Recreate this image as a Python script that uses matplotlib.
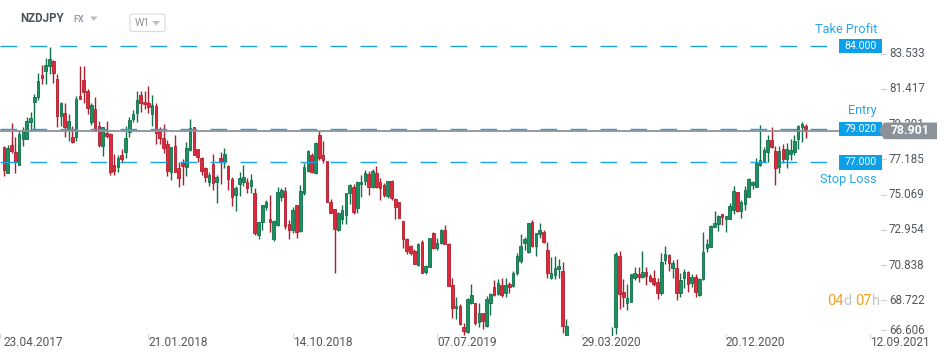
import numpy as np
import matplotlib.pyplot as plt
from matplotlib.patches import Polygon, Rectangle, FancyBboxPatch

plt.rcParams['font.family'] = ['Roboto', 'DejaVu Sans']

# NZDJPY weekly candles, week 1 = 30.04.2017 ; None = week below the visible range
opens = [77.92, 76.36, 78.04, 77.62, 76.84, 78.44, 78.44, 79.44, 80.66, 80.96,
         82.24, 82.50, 82.82, 83.10, 82.02, 79.80, 79.96, 79.04, 78.54, 78.56,
         81.00, 81.96, 81.30, 79.46, 80.22, 79.20, 77.98, 78.76, 78.70, 76.84,
         76.72, 77.44, 77.66, 78.86, 79.62, 79.96, 81.04, 80.66, 80.56, 79.92,
         80.40, 78.90, 78.46, 78.12, 76.41, 77.99, 76.65, 77.01, 76.75, 77.75,
         79.11, 77.79, 77.25, 76.65, 75.85, 76.91, 75.85, 77.25, 77.05, 76.79,
         76.01, 75.03, 75.71, 75.85, 75.85, 75.61, 75.19, 72.62, 73.41, 74.35,
         73.60, 72.42, 73.24, 74.95, 75.31, 73.28, 72.94, 74.43, 72.90, 75.19,
         76.51, 77.45, 76.35, 78.65, 77.45, 77.09, 74.61, 74.19, 72.94, 73.58,
         73.84, 75.15, 75.55, 74.25, 75.69, 75.91, 76.29, 75.55, 76.39, 75.81,
         75.65, 74.99, 75.91, 74.81, 74.65, 73.49, 72.38, 71.98, 71.70, 70.84,
         72.24, 70.44, 70.74, 72.78, 71.84, 72.14, 72.94, 72.10, 69.64, 68.24,
         68.38, 67.13, 66.84, 68.54, 68.54, 67.44, 67.94, 67.20, 68.58, 69.50,
         69.08, 69.64, 69.14, 69.70, 69.60, 70.34, 71.10, 72.14, 71.64, 73.40,
         72.00, 72.68, 72.80, 71.74, 70.08, 70.24, 70.60, 70.48, 66.20, None,
         None, None, None, None, None, None, None, None, None, None,
         65.60, 67.10, 71.38, 69.24, 68.58, 68.64, 70.08, 70.28, 70.14, 70.40,
         70.18, 70.04, 69.84, 69.14, 71.14, 71.44, 70.64, 70.64, 69.14, 70.04,
         70.44, 69.74, 70.14, 69.04, 69.98, 71.88, 71.94, 73.14, 73.28, 73.91,
         73.59, 73.59, 74.15, 75.21, 74.10, 74.49, 74.95, 75.65, 75.55, 76.85,
         77.11, 77.61, 78.35, 77.69, 76.75, 77.81, 77.19, 77.49, 77.61, 78.41,
         79.11, 79.19]
highs = [77.98, 78.06, 79.36, 78.52, 78.92, 79.12, 79.72, 80.04, 81.12, 82.36,
         82.86, 83.26, 83.92, 83.16, 82.30, 80.66, 80.56, 79.92, 79.20, 81.00,
         82.80, 82.80, 81.40, 80.56, 80.92, 79.50, 79.16, 79.50, 78.76, 77.52,
         77.46, 77.82, 79.20, 79.72, 80.16, 81.30, 81.30, 81.30, 81.60, 81.06,
         80.56, 79.12, 79.32, 78.36, 77.95, 78.65, 77.05, 77.21, 78.21, 79.61,
         79.15, 77.79, 77.35, 76.75, 76.45, 77.51, 76.25, 77.65, 77.85, 76.85,
         76.11, 75.59, 76.45, 76.85, 76.05, 76.31, 75.45, 73.45, 74.45, 74.75,
         75.05, 73.54, 75.51, 75.45, 75.51, 73.54, 74.31, 74.43, 75.65, 76.99,
         77.75, 77.55, 78.25, 78.91, 78.31, 77.09, 74.80, 74.19, 74.05, 74.45,
         75.19, 75.71, 75.71, 75.91, 76.25, 76.55, 76.49, 76.59, 76.79, 76.05,
         75.75, 75.89, 75.95, 74.85, 74.65, 73.49, 72.44, 72.04, 71.78, 72.14,
         72.34, 70.84, 72.48, 72.84, 72.44, 72.98, 73.25, 72.14, 70.04, 68.94,
         68.50, 67.34, 68.84, 69.70, 68.58, 68.54, 67.94, 68.98, 69.14, 69.94,
         69.98, 70.04, 70.04, 69.84, 70.48, 71.54, 72.68, 72.50, 73.38, 73.54,
         72.78, 73.38, 72.94, 72.20, 71.34, 71.38, 71.18, 71.04, 67.60, None,
         None, None, None, None, None, None, None, None, None, None,
         67.13, 71.64, 71.68, 70.00, 69.70, 70.30, 70.70, 70.70, 71.68, 70.70,
         70.30, 70.54, 70.04, 71.54, 71.98, 71.48, 71.14, 71.20, 70.34, 70.60,
         70.48, 70.28, 70.28, 70.04, 72.80, 72.40, 73.24, 74.09, 73.85, 73.91,
         73.79, 74.59, 75.61, 75.25, 74.75, 75.59, 76.05, 75.91, 77.25, 79.25,
         77.95, 78.65, 79.11, 78.01, 78.01, 78.09, 78.15, 78.41, 78.65, 79.25,
         79.45, 79.31]
lows = [76.16, 76.36, 77.60, 76.36, 76.84, 78.00, 78.44, 78.92, 78.96, 80.76,
        81.70, 81.70, 82.34, 81.76, 79.12, 79.22, 78.52, 78.32, 78.16, 78.32,
        80.84, 80.56, 79.92, 79.26, 78.92, 77.92, 77.42, 78.46, 76.26, 76.26,
        76.40, 76.96, 77.26, 78.56, 79.46, 79.46, 80.06, 80.20, 79.96, 79.20,
        78.12, 78.12, 77.60, 76.20, 75.95, 76.45, 75.55, 75.65, 76.19, 77.71,
        77.47, 77.05, 76.25, 75.85, 75.59, 75.35, 74.59, 75.71, 76.65, 75.35,
        74.41, 74.11, 74.99, 75.61, 75.19, 75.19, 72.64, 72.38, 72.94, 74.15,
        72.84, 72.30, 73.18, 74.70, 73.00, 72.38, 72.74, 72.44, 72.84, 75.05,
        76.41, 76.35, 76.31, 77.15, 76.99, 74.65, 73.95, 70.38, 72.90, 73.28,
        73.30, 74.49, 73.90, 73.95, 74.91, 75.65, 75.05, 75.45, 75.45, 74.75,
        74.91, 74.85, 74.75, 73.59, 73.65, 71.84, 71.48, 71.44, 70.90, 70.80,
        70.38, 70.30, 70.70, 71.78, 71.74, 72.10, 72.08, 69.58, 67.64, 67.58,
        67.24, 66.63, 66.73, 68.50, 67.24, 67.13, 66.97, 67.13, 67.84, 68.98,
        69.04, 68.90, 68.90, 69.14, 69.54, 70.24, 70.94, 71.74, 71.58, 71.94,
        71.40, 72.44, 72.14, 70.08, 69.98, 69.98, 70.04, 66.73, 65.80, None,
        None, None, None, None, None, None, None, None, None, None,
        65.40, 66.70, 68.20, 68.30, 68.14, 68.60, 69.94, 69.84, 70.08, 69.64,
        69.84, 69.58, 68.80, 69.04, 70.90, 70.48, 70.08, 68.74, 68.94, 69.44,
        69.24, 69.54, 68.94, 69.00, 69.94, 71.60, 71.90, 73.10, 72.88, 73.25,
        72.80, 73.59, 73.89, 74.05, 73.69, 74.15, 74.95, 75.41, 75.55, 76.81,
        77.05, 77.05, 77.85, 75.65, 76.39, 76.95, 76.69, 77.15, 77.45, 77.81,
        78.25, 78.49]
closes = [76.52, 77.86, 77.72, 77.06, 78.70, 78.92, 79.50, 79.66, 80.92, 81.88,
          82.10, 82.86, 83.22, 82.36, 79.82, 80.60, 79.12, 79.50, 78.26, 80.80,
          80.84, 81.26, 80.26, 80.46, 78.92, 78.06, 79.12, 78.60, 76.40, 76.46,
          77.26, 77.20, 78.46, 79.54, 79.90, 80.74, 80.60, 80.50, 80.36, 80.44,
          78.80, 78.50, 77.90, 76.46, 77.91, 76.45, 76.05, 76.81, 77.85, 79.05,
          77.47, 77.35, 76.51, 76.15, 76.25, 75.75, 76.11, 77.11, 77.49, 76.01,
          74.95, 75.45, 76.05, 76.15, 75.45, 75.95, 72.74, 73.41, 74.45, 74.63,
          73.44, 73.48, 75.25, 75.35, 73.20, 72.94, 74.14, 72.84, 75.29, 76.73,
          77.69, 76.45, 78.15, 77.25, 77.15, 74.65, 73.99, 72.98, 73.95, 74.15,
          75.15, 75.65, 74.05, 75.85, 75.81, 76.35, 75.55, 76.49, 75.55, 75.45,
          75.05, 75.89, 74.85, 74.35, 73.69, 72.38, 71.70, 71.58, 70.90, 72.10,
          70.38, 70.78, 72.44, 71.84, 72.14, 72.94, 72.08, 69.58, 68.24, 68.40,
          67.30, 66.90, 68.78, 69.04, 67.38, 67.94, 67.50, 68.78, 69.08, 69.04,
          69.74, 69.04, 69.64, 69.54, 70.34, 71.38, 71.98, 72.40, 73.34, 72.00,
          72.74, 72.94, 72.20, 70.38, 70.34, 70.64, 70.78, 67.17, 67.17, None,
          None, None, None, None, None, None, None, None, None, None,
          66.40, 71.50, 69.09, 68.90, 68.84, 70.28, 70.34, 70.14, 70.40, 70.20,
          69.90, 69.70, 69.18, 71.04, 71.48, 70.94, 70.94, 69.14, 69.94, 70.40,
          69.68, 70.10, 69.20, 70.00, 71.64, 72.10, 73.18, 73.38, 73.79, 73.70,
          73.79, 74.39, 75.29, 74.10, 74.61, 75.35, 76.01, 75.85, 76.95, 77.15,
          77.75, 78.35, 77.95, 76.69, 77.69, 77.21, 77.81, 77.75, 78.31, 79.19,
          79.31, 78.901]

price_ticks = [83.533, 81.417, 79.301, 77.185, 75.069, 72.954, 70.838, 68.722, 66.606]
date_labels = ['23.04.2017', '21.01.2018', '14.10.2018', '07.07.2019',
               '29.03.2020', '20.12.2020', '12.09.2021']
date_weeks = [0, 39, 77, 115, 153, 191, 229]

take_profit = 84.000
entry = 79.020
stop_loss = 77.000
last_price = 78.901

W, H = 950, 360
PXW = 3.8          # pixels per week


def wk(px):
    return (px - 0.1) / PXW


def fx(px):
    return px / W


def fy(py):
    return 1 - py / H


fig = plt.figure(figsize=(W / 100, H / 100), dpi=100)
fig.patch.set_facecolor('white')
ax = fig.add_axes([0, (H - 335.5) / H, 1, 335.5 / H])
ax.set_xlim(wk(0), wk(W))
ax.set_ylim(66.606, 86.763)
ax.axis('off')
ytr = ax.get_yaxis_transform()

# candles
o = np.array(opens, dtype=float)
h = np.array(highs, dtype=float)
l = np.array(lows, dtype=float)
c = np.array(closes, dtype=float)
x = np.arange(1, len(o) + 1)
ok = ~np.isnan(o)
up = ok & (c >= o)
dn = ok & (c < o)
for m, fill, edge in [(up, '#1b9160', '#11704a'), (dn, '#e02a3b', '#b01e2d')]:
    ax.vlines(x[m], l[m], h[m], color=edge, lw=1.0, zorder=3)
    ax.bar(x[m], np.maximum(np.abs(c[m] - o[m]), 0.05), bottom=np.minimum(o[m], c[m]),
           width=0.72, color=fill, edgecolor=edge, lw=0.6, zorder=4)

# order levels
blue = '#1aa2e6'
for lvl in [take_profit, entry, stop_loss]:
    ax.hlines(lvl, wk(0), wk(833), colors=blue, lw=1.0, linestyles=(0, (12, 9.6)), zorder=5)
ax.hlines(last_price, wk(0), wk(883), colors='#8b9399', lw=1.3, zorder=5)

# right price scale
for t in price_ticks:
    yy = t if t > 67 else t + 0.33
    ax.plot([881 / W, 886 / W], [yy, yy], color='#d0d3d6', lw=0.8, transform=ytr, clip_on=False)
    ax.text(889 / W, yy, f'{t:.3f}', transform=ytr, ha='left', va='center',
            fontsize=8.4, color='#50575d', zorder=6, clip_on=False)

# level boxes
for lvl in [take_profit, entry, stop_loss]:
    ax.add_patch(Rectangle((839 / W, lvl - 0.44), 43 / W, 0.88, transform=ytr,
                           facecolor='#0ca0ea', edgecolor='none', zorder=7, clip_on=False))
    ax.text(860.5 / W, lvl, f'{lvl:.3f}', transform=ytr, ha='center', va='center',
            fontsize=7.6, color='white', zorder=8)

ax.add_patch(Polygon([(879 / W, last_price), (884 / W, last_price + 0.5), (937 / W, last_price + 0.5),
                      (937 / W, last_price - 0.5), (884 / W, last_price - 0.5)],
                     closed=True, transform=ytr, facecolor='#8c9398', edgecolor='none', zorder=9,
                     clip_on=False))
ax.text(910 / W, last_price, f'{last_price:.3f}', transform=ytr, ha='center', va='center',
        fontsize=8.8, color='white', fontweight='bold', zorder=10)

lbl_blue = '#2aa6e6'
fig.text(fx(877), fy(29.5), 'Take Profit', ha='right', va='center', fontsize=9.2, color=lbl_blue)
fig.text(fx(877), fy(110.5), 'Entry', ha='right', va='center', fontsize=9.2, color=lbl_blue)
fig.text(fx(877), fy(179), 'Stop Loss', ha='right', va='center', fontsize=9.2, color=lbl_blue)

# date axis
for lab, w in zip(date_labels, date_weeks):
    px = 0.1 + w * PXW
    fig.add_artist(plt.Line2D([fx(px), fx(px)], [fy(334), fy(337.5)], color='#d5d8db', lw=0.8))
    fig.text(fx(max(px, 4)), fy(343), lab, ha='left', va='center', fontsize=8.6, color='#50575d')

# countdown
t1 = fig.text(fx(827), fy(301), '04', ha='left', va='center', fontsize=10.5, color='#f5a11f')
t2 = ax.annotate('d ', xy=(1, 0), xycoords=t1, va='bottom', fontsize=10.5, color='#c3c7cb')
t3 = ax.annotate('07', xy=(1, 0), xycoords=t2, va='bottom', fontsize=10.5, color='#f5a11f')
ax.annotate('h', xy=(1, 0), xycoords=t3, va='bottom', fontsize=10.5, color='#c3c7cb')

# header
fig.text(fx(20), fy(19), 'NZDJPY', ha='left', va='center', fontsize=8.3, fontweight='bold',
         color='#4a545d')
fig.text(fx(73), fy(20), 'FX', ha='left', va='center', fontsize=6.6, fontweight='bold',
         color='#98a0a6')
fig.add_artist(Polygon([(fx(90), fy(16.5)), (fx(97.5), fy(16.5)), (fx(93.75), fy(21))],
                       closed=True, transform=fig.transFigure, facecolor='#b9bec3', edgecolor='none'))
fig.add_artist(FancyBboxPatch((fx(130), fy(31.5)), fx(35), 17.5 / H,
                              boxstyle='round,pad=0,rounding_size=0.004',
                              transform=fig.transFigure, facecolor='white',
                              edgecolor='#dcdfe2', lw=0.9))
fig.text(fx(135), fy(23), 'W1', ha='left', va='center', fontsize=7.6, color='#8d949a')
fig.add_artist(Polygon([(fx(152.5), fy(21)), (fx(160), fy(21)), (fx(156.25), fy(25.5))],
                       closed=True, transform=fig.transFigure, facecolor='#b9bec3', edgecolor='none'))

fig.savefig('out.png', dpi=100, facecolor='white')
